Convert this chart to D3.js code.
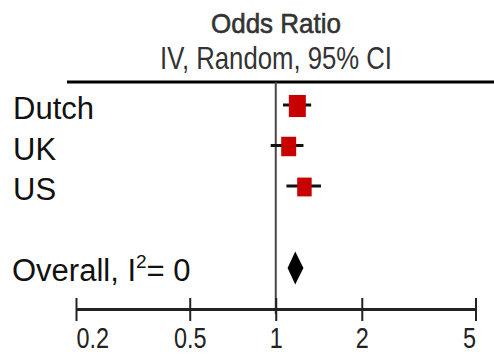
<!DOCTYPE html>
<html>
<head>
<meta charset="utf-8">
<script src="https://cdn.jsdelivr.net/npm/d3@7/dist/d3.min.js"></script>
<style>
  html, body { margin: 0; padding: 0; background: #fff; }
  svg { display: block; }
  text { font-family: "Liberation Sans", Arial, sans-serif; }
</style>
</head>
<body>
<script>
// ---- data ----
const studies   = ["Dutch", "UK", "US"];
const oddsRatio = [1.19, 1.11, 1.26];
const ciLow     = [1.06, 0.96, 1.09];
const ciHigh    = [1.33, 1.25, 1.44];
const weights   = [40, 31, 29];
const overall   = { label: "Overall, I", sup: "2", rest: "= 0", or: 1.17, lo: 1.10, hi: 1.25 };
const tickValues = [0.2, 0.5, 1, 2, 5];
const tickLabels = ["0.2", "0.5", "1", "2", "5"];
const titleLines = ["Odds Ratio", "IV, Random, 95% CI"];

// ---- layout ----
const W = 494, H = 358;
const svg = d3.select("body").append("svg").attr("width", W).attr("height", H);

const x = d3.scaleLog().domain([0.2, 5]).range([76, 475.5]);
const rowKeys = [...studies, "_gap", "Overall"];
const y = d3.scalePoint().domain(rowKeys).range([106, 268]);
const size = d3.scaleSqrt().domain([0, 40]).range([0, 17]);

const axisY = 309;
const headerY = 82;

// title
svg.append("text")
  .attr("x", 276).attr("y", 33)
  .attr("text-anchor", "middle")
  .attr("font-size", 28)
  .attr("fill", "#333").attr("stroke", "#333").attr("stroke-width", 0.6)
  .attr("textLength", 130).attr("lengthAdjust", "spacingAndGlyphs")
  .text(titleLines[0]);
svg.append("text")
  .attr("x", 276).attr("y", 69)
  .attr("text-anchor", "middle")
  .attr("font-size", 32)
  .attr("fill", "#333")
  .attr("textLength", 232).attr("lengthAdjust", "spacingAndGlyphs")
  .text(titleLines[1]);

// header line
svg.append("line")
  .attr("x1", 67).attr("x2", W)
  .attr("y1", headerY).attr("y2", headerY)
  .attr("stroke", "#000").attr("stroke-width", 3);

// null line
svg.append("line")
  .attr("x1", x(1)).attr("x2", x(1))
  .attr("y1", headerY).attr("y2", axisY + 5)
  .attr("stroke", "#444").attr("stroke-width", 2);

// row labels
svg.selectAll("text.row").data(studies).enter().append("text")
  .attr("class", "row")
  .attr("x", 13).attr("y", d => y(d) + 13)
  .attr("font-size", 31).attr("fill", "#111")
  .text(d => d);

const ov = svg.append("text")
  .attr("x", 12).attr("y", y("Overall") + 13)
  .attr("font-size", 31).attr("fill", "#111");
ov.append("tspan").text(overall.label);
ov.append("tspan").attr("font-size", 19).attr("dy", -13).text(overall.sup);
ov.append("tspan").attr("dy", 13).text(overall.rest);

// CI lines
svg.selectAll("line.ci").data(studies).enter().append("line")
  .attr("class", "ci")
  .attr("x1", (d, i) => x(ciLow[i])).attr("x2", (d, i) => x(ciHigh[i]))
  .attr("y1", d => y(d) - 1).attr("y2", d => y(d) - 1)
  .attr("stroke", "#111").attr("stroke-width", 3);

// squares
svg.selectAll("rect.pt").data(studies).enter().append("rect")
  .attr("class", "pt")
  .attr("x", (d, i) => x(oddsRatio[i]) - size(weights[i]) / 2)
  .attr("y", (d, i) => y(d) - size(weights[i]) * 1.3 / 2)
  .attr("width", (d, i) => size(weights[i]))
  .attr("height", (d, i) => size(weights[i]) * 1.3)
  .attr("fill", "#c80000");

// diamond
const yc = y("Overall");
svg.append("path")
  .attr("d", `M${x(overall.lo)},${yc} L${x(overall.or)},${yc - 16.5} L${x(overall.hi)},${yc} L${x(overall.or)},${yc + 16.5} Z`)
  .attr("fill", "#000");

// axis
const axis = d3.axisBottom(x).tickValues(tickValues).tickSize(11).tickSizeOuter(0).tickFormat((d, i) => tickLabels[i]);
const g = svg.append("g").attr("transform", `translate(0,${axisY})`).call(axis);
g.select(".domain").attr("stroke", "#222").attr("stroke-width", 3);
g.selectAll(".tick line").attr("y1", -11).attr("y2", 12).attr("stroke", "#222").attr("stroke-width", 2);
g.selectAll(".tick text")
  .attr("y", null).attr("dy", null)
  .attr("transform", "translate(0,39) scale(0.78,1)")
  .attr("font-size", 30)
  .attr("fill", "#222")
  .attr("font-family", "Liberation Sans, Arial, sans-serif")
  .attr("text-anchor", (d, i) => i === 0 ? "start" : (i === tickValues.length - 1 ? "end" : "middle"));
</script>
</body>
</html>
